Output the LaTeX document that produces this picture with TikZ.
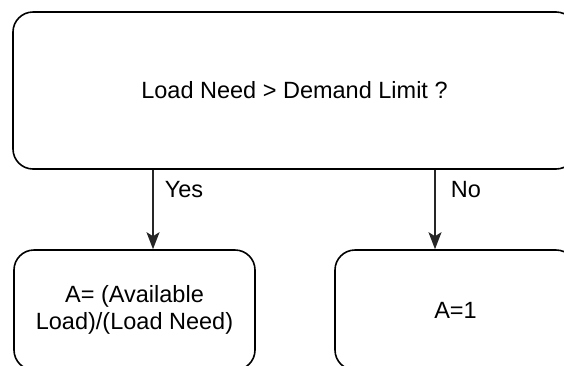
\documentclass[tikz,border=0pt]{standalone}
\usepackage{fontspec}
\setmainfont{Liberation Sans}
\usetikzlibrary{arrows.meta}

\tikzset{
  box/.style={draw=black, line width=1.6pt, rounded corners=20pt, fill=white,
              align=center, inner sep=0pt, font=\fontsize{23.5}{26.5}\selectfont},
  flow/.style={draw=black!85, line width=1.6pt,
               -{Stealth[length=17pt, width=13pt, inset=4pt]}},
  lbl/.style={font=\fontsize{23.5}{26.5}\selectfont, inner sep=0pt}
}

\begin{document}
\begin{tikzpicture}[x=1pt, y=-1pt]
  \useasboundingbox (0,0) rectangle (564,365);
  \clip (0,0) rectangle (564,365);

  % decision box
  \node[box, minimum width=563pt, minimum height=157pt] (cond) at (294.5,90.5)
    {Load Need > Demand Limit ?};

  % outcome boxes
  \node[box, minimum width=241pt, minimum height=120pt] (yesbox) at (134.5,310)
    {A= (Available\\Load)/(Load Need)};
  \node[box, minimum width=241pt, minimum height=120pt] (nobox) at (455.5,310)
    {A=1};

  % connector columns
  \coordinate (ycol) at (153,0);
  \coordinate (ncol) at (435,0);

  \draw[flow] (cond.south -| ycol) -- (yesbox.north -| ycol);
  \draw[flow] (cond.south -| ncol) -- (nobox.north -| ncol);

  \node[lbl] (yes) at (184,190) {Yes};
  \node[lbl] (no) at (466,190) {No};
\end{tikzpicture}
\end{document}
